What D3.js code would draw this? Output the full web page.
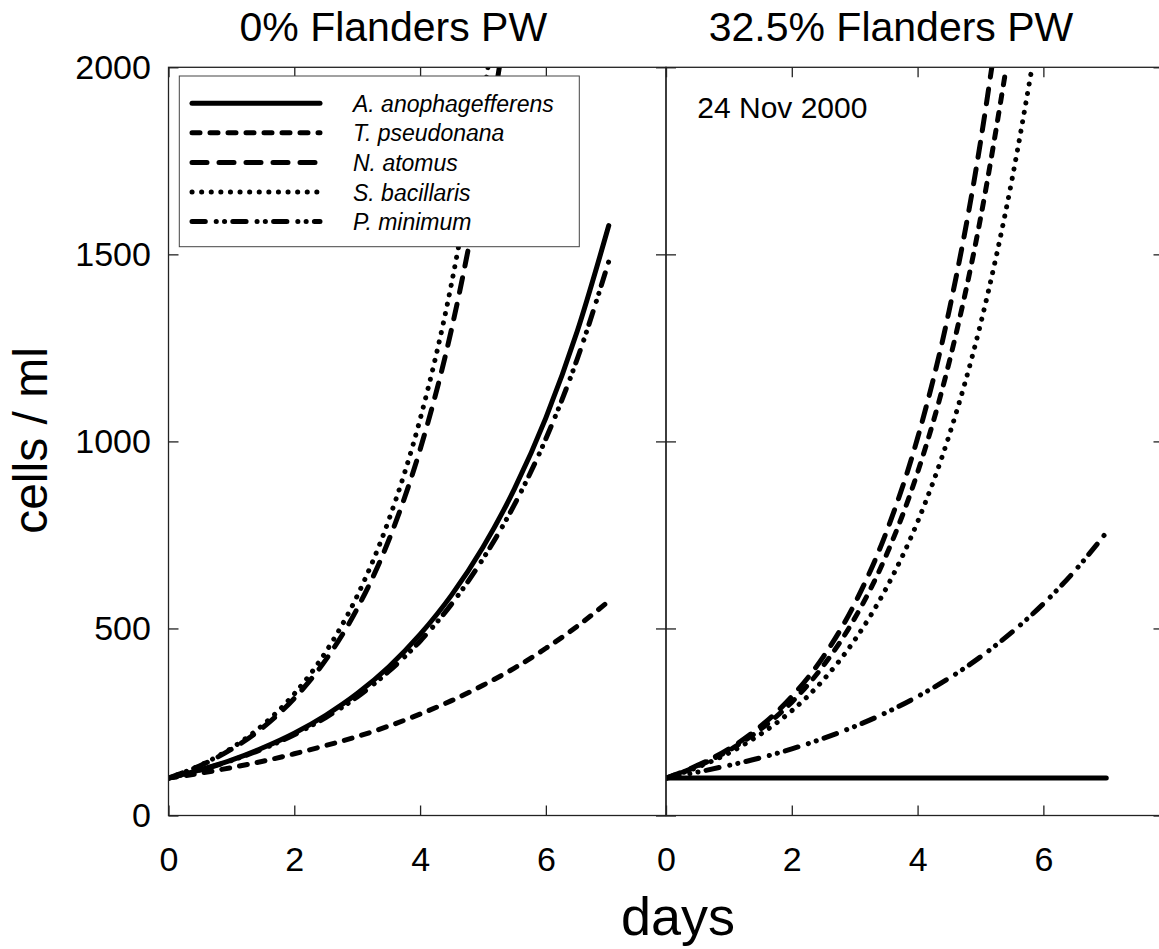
<!DOCTYPE html>
<html>
<head>
<meta charset="utf-8">
<script src="https://cdn.jsdelivr.net/npm/d3@7"></script>
<style>
  body { margin: 0; background: #fff; }
  text { font-family: 'Liberation Sans', Arial, sans-serif; fill: #000; }
</style>
</head>
<body>
<svg id="chart"></svg>
<script>
// Tick labels
var dayTicks = [0, 2, 4, 6];
var cellTicks = [0, 500, 1000, 1500, 2000];

// Days sampled along each curve
var halfDays = [0, 0.5, 1, 1.5, 2, 2.5, 3, 3.5, 4, 4.5, 5, 5.5, 6, 6.5, 7];

// Species (legend order)
var species = ['A. anophagefferens', 'T. pseudonana', 'N. atomus', 'S. bacillaris', 'P. minimum'];

// 0% Flanders PW, cells / ml
var leftAnophagefferens = [100, 122, 148, 181, 220, 268, 326, 397, 484, 589, 717, 873, 1063, 1295, 1577];
var leftPseudonana = [100, 113, 128, 145, 165, 187, 211, 239, 271, 307, 348, 394, 447, 506, 573];
var leftAtomusDays = [0, 0.5, 1, 1.5, 2, 2.5, 3, 3.5, 4, 4.5, 5, 5.26];
var leftAtomus = [100, 133, 177, 235, 313, 416, 553, 735, 978, 1300, 1729, 2000];
var leftBacillarisDays = [0, 0.5, 1, 1.5, 2, 2.5, 3, 3.5, 4, 4.5, 5, 5.08];
var leftBacillaris = [100, 134, 180, 242, 325, 437, 587, 789, 1059, 1422, 1910, 2000];
var leftMinimum = [100, 121, 147, 178, 216, 262, 317, 385, 466, 565, 686, 831, 1007, 1221, 1481];

// 32.5% Flanders PW, cells / ml
var rightAnophagefferens = [100, 100, 100, 100, 100, 100, 100, 100, 100, 100, 100, 100, 100, 100, 100];
var rightPseudonanaDays = [0, 0.5, 1, 1.5, 2, 2.5, 3, 3.5, 4, 4.5, 5, 5.41];
var rightPseudonana = [100, 132, 174, 230, 303, 400, 527, 695, 917, 1210, 1596, 2000];
var rightAtomusDays = [0, 0.5, 1, 1.5, 2, 2.5, 3, 3.5, 4, 4.5, 5, 5.18];
var rightAtomus = [100, 134, 178, 238, 318, 424, 566, 756, 1009, 1348, 1800, 2000];
var rightBacillarisDays = [0, 0.5, 1, 1.5, 2, 2.5, 3, 3.5, 4, 4.5, 5, 5.5, 5.82];
var rightBacillaris = [100, 129, 167, 217, 280, 362, 469, 607, 785, 1015, 1313, 1699, 2000];
var rightMinimum = [100, 116, 134, 154, 178, 206, 238, 275, 318, 367, 424, 490, 566, 654, 756];

// Line styles, one per species
var dashStyles = ['none', '8,10', '15,12', '0.1,9.5', '13.3,10.9,0.1,8.2,0.1,8.2'];

var canvasWidth = 1159;
var canvasHeight = 949;
var fontFamily = "'Liberation Sans', Arial, sans-serif";

var svg = d3.select('#chart')
  .attr('width', canvasWidth)
  .attr('height', canvasHeight);

// Scales
var yScale = d3.scaleLinear()
  .domain([0, 2000])
  .range([815.5, 67.3]);

var leftX = d3.scaleLinear()
  .domain([0, 7.91])
  .range([168.5, 666]);

var rightX = d3.scaleLinear()
  .domain([0, 7.91])
  .range([666, 1163.5]);

function pairUp(days, cells) {
  return days.map(function(d, i) {
    return { day: d, cells: cells[i] };
  });
}

/**
 * Draws one panel: frame, ticks and the five curves.
 */
function drawPanel(name, xScale, seriesList, showYLabels) {
  var x0 = xScale.range()[0];
  var x1 = xScale.range()[1];
  var yTop = yScale.range()[1];
  var yBottom = yScale.range()[0];

  svg.append('clipPath')
    .attr('id', 'clip-' + name)
    .append('rect')
    .attr('x', x0)
    .attr('y', yTop)
    .attr('width', x1 - x0)
    .attr('height', yBottom - yTop);

  var line = d3.line()
    .curve(d3.curveMonotoneX)
    .x(function(d) {
      return xScale(d.day);
    })
    .y(function(d) {
      return yScale(d.cells);
    });

  var curves = svg.append('g')
    .attr('clip-path', 'url(#clip-' + name + ')');

  seriesList.forEach(function(s, i) {
    curves.append('path')
      .datum(s)
      .attr('d', line)
      .attr('fill', 'none')
      .attr('stroke', '#000')
      .attr('stroke-width', 5)
      .attr('stroke-linecap', 'round')
      .attr('stroke-dasharray', dashStyles[i]);
  });

  // Axes (ticks point inwards)
  var bottomAxis = d3.axisBottom(xScale)
    .tickValues(dayTicks)
    .tickSizeInner(-10)
    .tickSizeOuter(0)
    .tickPadding(31)
    .tickFormat(d3.format('d'));

  var topAxis = d3.axisTop(xScale)
    .tickValues(dayTicks)
    .tickSizeInner(-10)
    .tickSizeOuter(0)
    .tickFormat('');

  var leftAxis = d3.axisLeft(yScale)
    .tickValues(cellTicks)
    .tickSizeInner(-10)
    .tickSizeOuter(0)
    .tickPadding(17.6)
    .tickFormat(showYLabels ? d3.format('d') : '');

  var rightAxis = d3.axisRight(yScale)
    .tickValues(cellTicks)
    .tickSizeInner(-10)
    .tickSizeOuter(0)
    .tickFormat('');

  var axes = [
    svg.append('g').attr('transform', 'translate(0,' + yBottom + ')').call(bottomAxis),
    svg.append('g').attr('transform', 'translate(0,' + yTop + ')').call(topAxis),
    svg.append('g').attr('transform', 'translate(' + x0 + ',0)').call(leftAxis),
    svg.append('g').attr('transform', 'translate(' + x1 + ',0)').call(rightAxis)
  ];

  axes.forEach(function(a) {
    a.attr('font-size', 34).attr('font-family', fontFamily);
    a.select('.domain').remove();
    a.selectAll('.tick line').attr('stroke', '#222').attr('stroke-width', 1.3);
    a.selectAll('.tick text').attr('fill', '#000');
  });

  // Frame
  svg.append('rect')
    .attr('x', x0)
    .attr('y', yTop)
    .attr('width', x1 - x0)
    .attr('height', yBottom - yTop)
    .attr('fill', 'none')
    .attr('stroke', '#222')
    .attr('stroke-width', 1.3);
}

drawPanel('left', leftX, [
  pairUp(halfDays, leftAnophagefferens),
  pairUp(halfDays, leftPseudonana),
  pairUp(leftAtomusDays, leftAtomus),
  pairUp(leftBacillarisDays, leftBacillaris),
  pairUp(halfDays, leftMinimum)
], true);

drawPanel('right', rightX, [
  pairUp(halfDays, rightAnophagefferens),
  pairUp(rightPseudonanaDays, rightPseudonana),
  pairUp(rightAtomusDays, rightAtomus),
  pairUp(rightBacillarisDays, rightBacillaris),
  pairUp(halfDays, rightMinimum)
], false);

// Legend (opaque, sits over the curves)
var legend = svg.append('g')
  .classed('legend', true);

legend.append('rect')
  .attr('x', 179.3)
  .attr('y', 76)
  .attr('width', 400)
  .attr('height', 170.7)
  .attr('fill', '#fff')
  .attr('stroke', '#444')
  .attr('stroke-width', 1);

var rows = legend.selectAll('.row')
  .data(species)
  .enter()
  .append('g')
  .classed('row', true)
  .attr('transform', function(d, i) {
    return 'translate(0,' + (111.7 + i * 29.6) + ')';
  });

rows.append('line')
  .attr('x1', 192)
  .attr('x2', 320)
  .attr('y1', -8.5)
  .attr('y2', -8.5)
  .attr('stroke', '#000')
  .attr('stroke-width', 5)
  .attr('stroke-linecap', 'round')
  .attr('stroke-dasharray', function(d, i) {
    return dashStyles[i];
  });

rows.append('text')
  .attr('x', 353)
  .attr('y', 0)
  .attr('font-size', 23)
  .attr('font-style', 'italic')
  .text(function(d) {
    return d;
  });

// Titles and labels
svg.append('text')
  .attr('x', 393.3)
  .attr('y', 41)
  .attr('text-anchor', 'middle')
  .attr('font-size', 41)
  .text('0% Flanders PW');

svg.append('text')
  .attr('x', 1073.3)
  .attr('y', 41)
  .attr('text-anchor', 'end')
  .attr('font-size', 41)
  .text('32.5% Flanders PW');

svg.append('text')
  .attr('x', 697.3)
  .attr('y', 118.3)
  .attr('font-size', 30)
  .text('24 Nov 2000');

svg.append('text')
  .attr('transform', 'translate(47,440.5) rotate(-90)')
  .attr('text-anchor', 'middle')
  .attr('font-size', 48)
  .text('cells / ml');

svg.append('text')
  .attr('x', 678)
  .attr('y', 935)
  .attr('text-anchor', 'middle')
  .attr('font-size', 54)
  .text('days');
</script>
</body>
</html>
